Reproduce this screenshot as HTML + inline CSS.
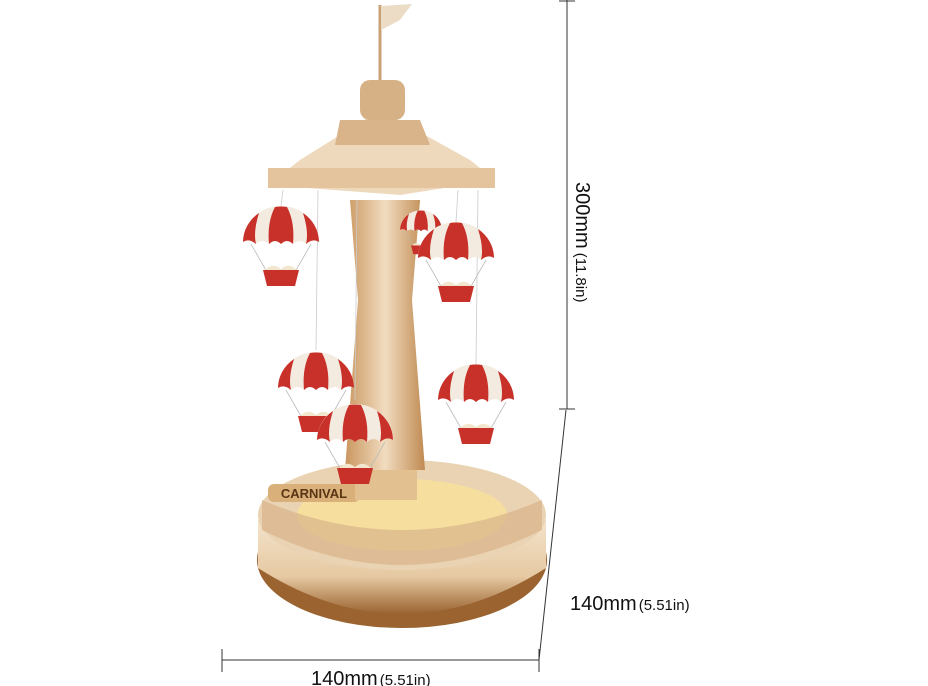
<!DOCTYPE html>
<html><head><style>
html,body{margin:0;padding:0;background:#fff;width:928px;height:686px;overflow:hidden}
svg{display:block}
text{font-family:"Liberation Sans",sans-serif;fill:#111}
</style></head><body>
<svg width="928" height="686" viewBox="0 0 928 686">
<defs>
<linearGradient id="wood" x1="0" x2="1"><stop offset="0" stop-color="#c9965e"/><stop offset="0.5" stop-color="#f1dcc0"/><stop offset="1" stop-color="#c08a52"/></linearGradient>
<linearGradient id="base" x1="0" x2="0" y1="0" y2="1"><stop offset="0" stop-color="#f3e3cb"/><stop offset="0.6" stop-color="#e6c9a2"/><stop offset="1" stop-color="#9a6330"/></linearGradient>
<g id="chute">
<path d="M-38,0 A38,36 0 0 1 38,0 Q32,-4 25,2 Q19,-4 12,2 Q6,-4 0,2 Q-6,-4 -12,2 Q-19,-4 -25,2 Q-32,-4 -38,0Z" fill="#f4ebe0"/>
<path d="M-38,0 A38,36 0 0 1 -22,-29 Q-28,-10 -25,2 Q-32,-4 -38,0Z" fill="#c8302a"/>
<path d="M-12,2 Q-14,-20 -6,-35 A38,36 0 0 1 6,-35 Q14,-20 12,2 Q6,-4 0,2 Q-6,-4 -12,2Z" fill="#c8302a"/>
<path d="M38,0 A38,36 0 0 0 22,-29 Q28,-10 25,2 Q32,-4 38,0Z" fill="#c8302a"/>
<line x1="-30" y1="2" x2="-14" y2="30" stroke="#bbb" stroke-width="0.8"/>
<line x1="30" y1="2" x2="14" y2="30" stroke="#bbb" stroke-width="0.8"/>
<path d="M-18,28 L18,28 L14,44 L-14,44Z" fill="#c8302a"/>
<path d="M-16,28 Q-8,20 0,27 Q8,20 16,28Z" fill="#f2e6cf"/>
</g>
</defs>
<ellipse cx="402" cy="560" rx="145" ry="68" fill="#9a6330"/>
<path d="M258,520 L258,568 Q402,660 546,568 L546,520Z" fill="url(#base)"/>
<ellipse cx="402" cy="515" rx="144" ry="55" fill="#e9d3b3"/>
<ellipse cx="402" cy="515" rx="105" ry="36" fill="#f6df9e"/>
<path d="M262,500 L262,530 Q402,600 542,530 L542,500 Q402,560 262,500Z" fill="#d8b48a" opacity="0.7"/>
<rect x="268" y="484" width="92" height="18" rx="6" fill="#d9b07a"/>
<text x="314" y="498" font-size="13" text-anchor="middle" style="fill:#5a3515;font-weight:bold">CARNIVAL</text>
<path d="M350,200 L420,200 L412,300 L425,470 L345,470 L358,300Z" fill="url(#wood)"/>
<rect x="355" y="470" width="62" height="30" fill="#e2c08f"/>
<path d="M300,160 L380,110 L470,160 L495,180 L400,195 L268,185Z" fill="#eed9bc"/>
<path d="M268,168 L495,168 L495,188 L268,188Z" fill="#e4c49c"/>
<path d="M340,120 L420,120 L430,145 L335,145Z" fill="#d9b48a"/>
<rect x="360" y="80" width="45" height="40" rx="10" fill="#d7b186"/>
<line x1="380" y1="80" x2="380" y2="5" stroke="#c9a176" stroke-width="3"/>
<path d="M381,6 L412,4 L400,20 L381,30Z" fill="#ecdcc6"/>
<g stroke="#ccc" stroke-width="0.8">
<line x1="283" y1="190" x2="281" y2="206"/><line x1="458" y1="190" x2="456" y2="222"/>
<line x1="318" y1="190" x2="316" y2="350"/><line x1="478" y1="190" x2="476" y2="365"/>
<line x1="357" y1="200" x2="355" y2="400"/>
</g>
<use href="#chute" transform="translate(421,230) scale(0.55)"/>
<use href="#chute" transform="translate(281,242)"/>
<use href="#chute" transform="translate(456,258)"/>
<use href="#chute" transform="translate(316,388)"/>
<use href="#chute" transform="translate(476,400)"/>
<use href="#chute" transform="translate(355,440)"/>
<g stroke="#333" stroke-width="1" fill="none">
<line x1="567" y1="0" x2="567" y2="409"/>
<line x1="559" y1="1" x2="575" y2="1"/>
<line x1="559" y1="409" x2="575" y2="409"/>
<line x1="566" y1="410" x2="539" y2="660"/>
<line x1="222" y1="660" x2="539" y2="660"/>
<line x1="222" y1="649" x2="222" y2="672"/>
<line x1="539" y1="649" x2="539" y2="672"/>
</g>
<text x="570" y="610" font-size="20">140mm<tspan font-size="15" dx="2">(5.51in)</tspan></text>
<text x="311" y="685" font-size="20">140mm<tspan font-size="15" dx="2">(5.51in)</tspan></text>
<g transform="translate(576,182) rotate(90)">
<text x="0" y="0" font-size="20">300mm<tspan font-size="15" dx="4">(11.8in)</tspan></text>
</g>
</svg>
</body></html>
